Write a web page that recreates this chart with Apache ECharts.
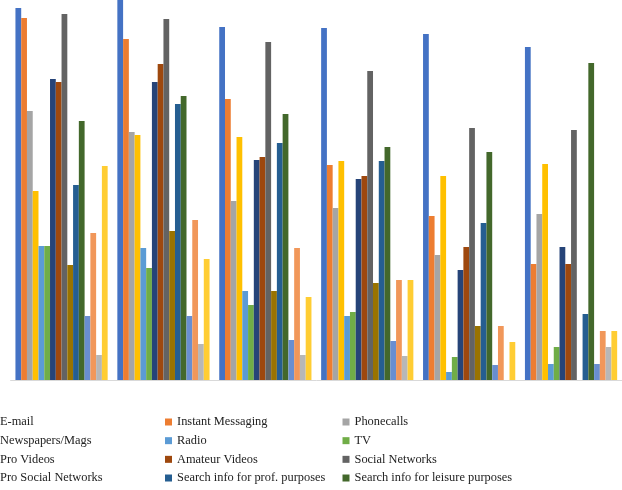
<!DOCTYPE html>
<html>
<head>
<meta charset="utf-8">
<script src="https://cdn.jsdelivr.net/npm/echarts@6/dist/echarts.min.js"></script>
<style>html,body{margin:0;padding:0;background:#fff}#c{width:622px;height:490px}</style>
</head>
<body>
<div id="c"></div>
<script>
// Categories (axis labels are cropped out of the reference)
var categories = ['Group 1', 'Group 2', 'Group 3', 'Group 4', 'Group 5', 'Group 6'];

// Series values (arbitrary units)
var email             = [372, 395, 353, 352, 346, 333];
var instantMessaging  = [362, 341, 281, 215, 164, 116];
var phonecalls        = [269, 248, 179, 172, 125, 166];
var newspapersMags    = [189, 245, 243, 219, 204, 216];
var radio             = [134, 132, 89, 64, 8, 16];
var tv                = [134, 112, 75, 68, 23, 33];
var proVideos         = [301, 298, 220, 201, 110, 133];
var amateurVideos     = [298, 316, 223, 204, 133, 116];
var socialNetworks    = [366, 361, 338, 309, 252, 250];
var proSocialNetworks = [115, 149, 89, 97, 54, 0];
var searchProf        = [195, 276, 237, 219, 157, 66];
var searchLeisure     = [259, 284, 266, 233, 228, 317];
var series13          = [64, 64, 40, 39, 15, 16];
var series14          = [147, 160, 132, 100, 54, 49];
var series15          = [25, 36, 25, 24, 0, 33];
var series16          = [214, 121, 83, 100, 38, 49];

var seriesNames = ['E-mail', 'Instant Messaging', 'Phonecalls', 'Newspapers/Mags', 'Radio', 'TV',
  'Pro Videos', 'Amateur Videos', 'Social Networks', 'Pro Social Networks',
  'Search info for prof. purposes', 'Search info for leisure purposes',
  'Series 13', 'Series 14', 'Series 15', 'Series 16'];
var seriesData = [email, instantMessaging, phonecalls, newspapersMags, radio, tv,
  proVideos, amateurVideos, socialNetworks, proSocialNetworks, searchProf, searchLeisure,
  series13, series14, series15, series16];
var colors = ['#4472C4', '#ED7D31', '#A5A5A5', '#FFC000', '#5B9BD5', '#70AD47',
  '#264478', '#9E480E', '#636363', '#997300', '#255E91', '#43682B',
  '#698ED0', '#F1975A', '#B7B7B7', '#FFCD33'];

var chart = echarts.init(document.getElementById('c'), null, {renderer: 'canvas'});

var legendText = {fontFamily: 'Liberation Serif', fontSize: 12.4, color: '#222', lineHeight: 18};
function col(names, left) {
  return {
    orient: 'vertical', left: left, top: 413, padding: 0,
    itemWidth: 7, itemHeight: 7, itemGap: 0.67, icon: 'rect',
    data: names, textStyle: legendText, selectedMode: false
  };
}

var option = {
  animation: false,
  color: colors,
  grid: {left: 10.6, right: -2, top: 0, bottom: 110, containLabel: false},
  legend: [
    col(['E-mail', 'Newspapers/Mags', 'Pro Videos', 'Pro Social Networks'], -12),
    col(['Instant Messaging', 'Radio', 'Amateur Videos', 'Search info for prof. purposes'], 165),
    col(['Phonecalls', 'TV', 'Social Networks', 'Search info for leisure purposes'], 342.5)
  ],
  xAxis: {
    type: 'category', data: categories,
    axisLine: {lineStyle: {color: '#D9D9D9', width: 1}},
    axisTick: {show: false}, axisLabel: {show: false}
  },
  yAxis: {
    type: 'value', min: 0, max: 380,
    axisLine: {show: false}, axisTick: {show: false}, axisLabel: {show: false},
    splitLine: {show: false}
  },
  series: seriesNames.map(function (n, i) {
    return {
      name: n, type: 'bar', data: seriesData[i],
      barGap: '0%', barCategoryGap: '9.5%',
      itemStyle: {color: colors[i]}
    };
  })
};
chart.setOption(option);
</script>
</body>
</html>
